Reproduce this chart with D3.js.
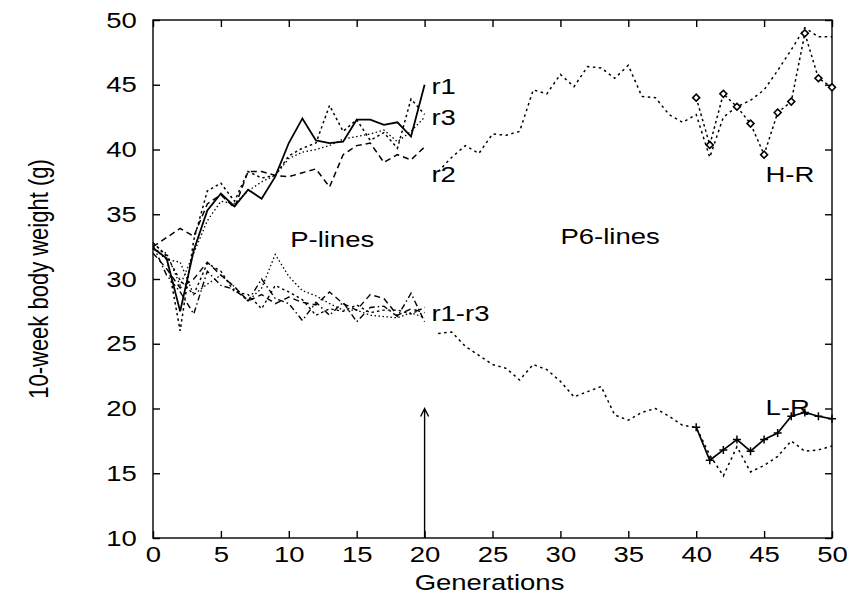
<!DOCTYPE html>
<html>
<head>
<meta charset="utf-8">
<script src="https://cdn.jsdelivr.net/npm/d3@7"></script>
<style>
  html, body { margin: 0; padding: 0; background: #fff; }
  svg { display: block; }
  text { font-family: "Liberation Sans", Arial, Helvetica, sans-serif; fill: #000; }
</style>
</head>
<body>
<svg id="chart" width="847" height="604"></svg>
<script>
// Generations for each phase
const genP   = [0,1,2,3,4,5,6,7,8,9,10,11,12,13,14,15,16,17,18,19,20];
const genP6  = [21,22,23,24,25,26,27,28,29,30,31,32,33,34,35,36,37,38,39,40,41,42,43,44,45,46,47,48,49,50];
const genSel = [40,41,42,43,44,45,46,47,48,49,50];

// P-lines selected upward (10-week body weight, g)
const upR1   = [32.4,31.6,27.5,32.2,35.3,36.6,35.6,36.9,36.2,37.9,40.5,42.4,40.7,40.5,40.6,42.3,42.3,41.9,42.1,41.0,45.0];
const upR2   = [32.5,33.2,33.9,33.3,35.8,36.5,35.5,38.3,38.3,38.0,37.9,38.2,38.5,37.1,39.6,40.3,40.5,39.0,39.6,39.2,40.2];
const upR3   = [32.8,31.8,26.0,33.0,36.8,37.4,36.0,38.3,37.8,38.0,39.5,40.1,40.5,43.4,41.4,42.3,40.7,41.3,40.1,43.9,42.7];
const upMean = [32.3,32.0,29.5,32.0,34.5,36.0,35.8,36.8,37.5,38.0,39.3,39.8,40.0,40.3,40.8,41.0,41.2,41.5,40.6,41.4,42.5];

// P-lines selected downward (r1-r3)
const dnA = [32.4,31.5,31.3,28.8,29.6,30.3,29.4,28.3,29.3,31.9,30.2,29.1,28.7,28.1,27.6,27.6,27.2,27.1,27.0,27.4,27.0];
const dnB = [32.0,30.8,29.3,30.0,31.3,30.3,29.4,28.3,28.8,28.1,28.6,28.2,28.0,29.0,28.1,27.6,28.8,28.5,27.2,27.7,27.4];
const dnC = [32.6,30.3,29.0,27.3,30.6,29.5,29.2,28.3,30.0,28.5,28.1,26.8,28.2,27.2,28.2,26.7,27.8,27.9,27.1,28.9,26.7];
const dnD = [32.8,31.8,29.9,28.8,31.2,30.6,29.0,28.8,27.7,29.5,29.0,28.4,27.2,27.7,27.5,28.0,27.4,27.6,27.6,27.3,27.8];

// P6-lines, generations 21-50
const p6Up   = [38.3,39.4,40.3,39.7,41.2,41.1,41.4,44.6,44.3,45.8,44.85,46.4,46.3,45.5,46.5,44.1,44.0,42.7,42.1,42.7,
                39.4,42.5,43.3,43.8,44.6,46.1,47.7,49.4,48.7,48.7];
const p6Down = [25.8,25.9,24.8,24.1,23.4,23.1,22.2,23.4,23.0,22.1,20.9,21.3,21.7,19.5,19.1,19.7,20.0,19.4,18.7,18.55,
                16.4,14.8,17.05,15.1,15.6,16.3,17.5,16.7,16.8,17.1];

// Re-selected lines from generation 40
const hR = [44.0,40.35,44.3,43.3,42.0,39.6,42.85,43.7,48.97,45.5,44.8];
const lR = [18.55,16.0,16.8,17.6,16.7,17.6,18.1,19.4,19.7,19.4,19.2];

// Axis ticks and annotations
const xTicks = [0,5,10,15,20,25,30,35,40,45,50];
const yTicks = [10,15,20,25,30,35,40,45,50];
const arrowGen = 20, arrowTop = 20;

const svg = d3.select("#chart");
const pL = 153, pR = 832, pT = 20, pB = 538;
const x = d3.scaleLinear().domain([0, 50]).range([pL, pR]);
const y = d3.scaleLinear().domain([10, 50]).range([pB, pT]);
const FS = 22;      // glyph height
const SX = 1.25;    // horizontal widening of the lettering

// frame
svg.append("rect")
  .attr("x", pL).attr("y", pT)
  .attr("width", pR - pL).attr("height", pB - pT)
  .attr("fill", "none").attr("stroke", "#000").attr("stroke-width", 1.4);

// axes with inward ticks on all four sides
function styleAxis(g, showText) {
  g.select(".domain").remove();
  g.selectAll(".tick line").attr("stroke", "#000").attr("stroke-width", 1.4);
  g.selectAll(".tick text")
    .attr("font-size", FS)
    .attr("transform", `scale(${SX},1)`)
    .style("font-family", '"Liberation Sans", Arial, sans-serif');
  if (!showText) g.selectAll(".tick text").remove();
}
svg.append("g").attr("transform", `translate(0,${pB})`)
  .call(d3.axisBottom(x).tickValues(xTicks).tickSize(-7).tickPadding(8))
  .call(g => styleAxis(g, true));
svg.append("g").attr("transform", `translate(0,${pT})`)
  .call(d3.axisTop(x).tickValues(xTicks).tickSize(-7))
  .call(g => styleAxis(g, false));
svg.append("g").attr("transform", `translate(${pL},0)`)
  .call(d3.axisLeft(y).tickValues(yTicks).tickSize(-7).tickPadding(13))
  .call(g => styleAxis(g, true));
svg.append("g").attr("transform", `translate(${pR},0)`)
  .call(d3.axisRight(y).tickValues(yTicks).tickSize(-7))
  .call(g => styleAxis(g, false));

// axis titles
svg.append("text")
  .attr("transform", `translate(${(pL + pR) / 2 - 3},590) scale(${SX},1)`)
  .attr("text-anchor", "middle").attr("font-size", FS)
  .text("Generations");
svg.append("text")
  .attr("transform", `translate(48,${(pT + pB) / 2}) rotate(-90) scale(1,${SX})`)
  .attr("text-anchor", "middle").attr("font-size", FS)
  .text("10-week body weight (g)");

// series
function drawLine(gens, vals, dash, width) {
  const line = d3.line().x((d, i) => x(gens[i])).y(d => y(d));
  svg.append("path")
    .datum(vals)
    .attr("d", line)
    .attr("fill", "none")
    .attr("stroke", "#000")
    .attr("stroke-width", width)
    .attr("stroke-linejoin", "miter")
    .attr("stroke-dasharray", dash);
}

drawLine(genP, upMean, "1.5,2.5", 1.3);
drawLine(genP, upR2, "6,4", 1.5);
drawLine(genP, upR3, "2.5,3", 1.5);
drawLine(genP, upR1, null, 1.8);

drawLine(genP, dnA, "1.5,2.5", 1.3);
drawLine(genP, dnB, "6,4", 1.4);
drawLine(genP, dnC, "6,3,1.5,3", 1.4);
drawLine(genP, dnD, "2.5,3", 1.4);

drawLine(genP6, p6Up, "2.5,3.5", 1.5);
drawLine(genP6, p6Down, "2.5,3.5", 1.5);

drawLine(genSel, hR, "2.5,3", 1.5);
drawLine(genSel, lR, null, 1.7);

// H-R diamonds
svg.append("g").selectAll("path")
  .data(hR)
  .join("path")
  .attr("transform", (d, i) => `translate(${x(genSel[i])},${y(d)}) rotate(45)`)
  .attr("d", d3.symbol(d3.symbolSquare, 24)())
  .attr("fill", "#fff").attr("stroke", "#000").attr("stroke-width", 1.6);

// L-R plus markers
svg.append("g").selectAll("path")
  .data(lR)
  .join("path")
  .attr("transform", (d, i) => `translate(${x(genSel[i])},${y(d)})`)
  .attr("d", "M-4,0H4M0,-4V4")
  .attr("fill", "none").attr("stroke", "#000").attr("stroke-width", 1.5);

// arrow marking the start of the P6 phase
const ax = x(arrowGen), ayTop = y(arrowTop);
svg.append("path")
  .attr("d", `M${ax},${pB}V${ayTop}M${ax - 4},${ayTop + 8}L${ax},${ayTop}L${ax + 4},${ayTop + 8}`)
  .attr("fill", "none").attr("stroke", "#000").attr("stroke-width", 1.4);

// annotations (start x in pixels of the gen axis, baseline in g)
const labels = [
  { t: "r1",       gx: 20.5, v: 44.3 },
  { t: "r3",       gx: 20.5, v: 41.9 },
  { t: "r2",       gx: 20.5, v: 37.5 },
  { t: "r1-r3",    gx: 20.5, v: 26.75 },
  { t: "P-lines",  gx: 10.1, v: 32.5 },
  { t: "P6-lines", gx: 30.0, v: 32.7 },
  { t: "H-R",      gx: 45.1, v: 37.5 },
  { t: "L-R",      gx: 45.1, v: 19.5 }
];
svg.append("g").selectAll("text")
  .data(labels)
  .join("text")
  .attr("transform", d => `translate(${x(d.gx)},${y(d.v)}) scale(${SX},1)`)
  .attr("font-size", FS)
  .text(d => d.t);
</script>
</body>
</html>
